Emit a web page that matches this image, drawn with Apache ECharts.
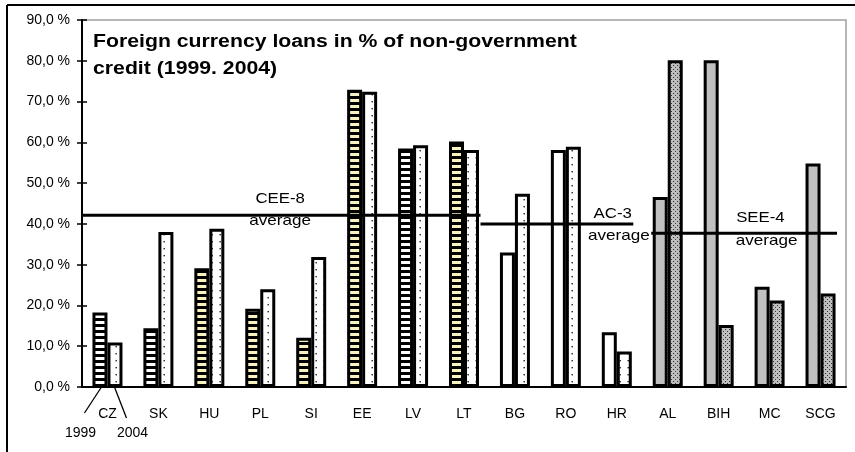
<!DOCTYPE html>
<html>
<head>
<meta charset="utf-8">
<script src="https://cdn.jsdelivr.net/npm/echarts@6/dist/echarts.min.js"></script>
<style>
  html, body { margin: 0; padding: 0; background: #ffffff; }
  #chart { width: 855px; height: 452px; }
</style>
</head>
<body>
<div id="chart"></div>
<script>
// Foreign currency loans as a share of non-government credit, 1999 vs 2004
const categories = ['CZ', 'SK', 'HU', 'PL', 'SI', 'EE', 'LV', 'LT', 'BG', 'RO', 'HR', 'AL', 'BIH', 'MC', 'SCG'];
const loans1999 = [18.3, 14.4, 29.1, 19.2, 12.1, 72.9, 58.5, 60.2, 33.0, 58.1, 13.4, 46.6, 80.1, 24.6, 54.8];
const loans2004 = [10.9, 38.0, 38.8, 24.0, 31.9, 72.4, 59.3, 58.1, 47.4, 58.9, 8.7, 80.1, 15.2, 21.2, 22.9];
const regionOf = ['CEE-8', 'CEE-8', 'CEE-8', 'CEE-8', 'CEE-8', 'CEE-8', 'CEE-8', 'CEE-8',
                  'AC-3', 'AC-3', 'AC-3', 'SEE-4', 'SEE-4', 'SEE-4', 'SEE-4'];
const regionNames = ['CEE-8', 'AC-3', 'SEE-4'];
const regionAverages = [42.1, 40.0, 37.7];
const yearNames = ['1999', '2004'];
const yMin = 0, yMax = 90, yStep = 10;
const titleLines = ['Foreign currency loans in % of non-government', 'credit (1999. 2004)'];

// ---- layout & style ----
const FONT = 'Liberation Sans, Arial, sans-serif';
const GRID = { left: 82, right: 9, top: 20, bottom: 65 };
const BAR_W = 15, BAR_BORDER = 3;
const stripeShade = { CZ: '#ffffff', SK: '#ffffff', LV: '#ffffff' };
// where each average line starts: at the axis, where the previous one ends, or at its first bar
const avgStart = { 'CEE-8': 'axis', 'AC-3': 'previous', 'SEE-4': 'bars' };
// label anchors (category units) and vertical offsets (px) around each line
const avgLabelAnchor = {
  'CEE-8': { name: [3.89, -16], avg: [3.89, 6] },
  'AC-3':  { name: [10.42, -10], avg: [10.54, 12] },
  'SEE-4': { name: [13.32, -15], avg: [13.44, 8] }
};

function pattern(w, h, draw) {
  const c = document.createElement('canvas');
  c.width = w; c.height = h;
  draw(c.getContext('2d'));
  return { image: c, repeat: 'repeat' };
}
function stripes(bg) {
  return pattern(6, 6, ctx => {
    ctx.fillStyle = '#000'; ctx.fillRect(0, 0, 6, 6);
    ctx.fillStyle = bg; ctx.fillRect(0, 3, 6, 3);
  });
}
const sparseDots = pattern(8, 7, ctx => {
  ctx.fillStyle = '#fff'; ctx.fillRect(0, 0, 8, 7);
  ctx.fillStyle = '#222'; ctx.fillRect(3.5, 3, 1.4, 1.4);
});
const denseDots = pattern(4, 4, ctx => {
  ctx.fillStyle = '#c0c0c0'; ctx.fillRect(0, 0, 4, 4);
  ctx.fillStyle = '#333'; ctx.fillRect(1, 1, 1.1, 1.1); ctx.fillRect(3, 3, 1.1, 1.1);
});

function fill1999(i) {
  const r = regionOf[i];
  if (r === 'CEE-8') return stripes(stripeShade[categories[i]] || '#f7f2bf');
  if (r === 'AC-3') return '#ffffff';
  return '#c0c0c0';
}
function fill2004(i) {
  return regionOf[i] === 'SEE-4' ? denseDots : sparseDots;
}

const barItem = (v, color) => ({ value: v, itemStyle: { color } });

const plotW = 855 - GRID.left - GRID.right;
const catW = plotW / categories.length;
const pairHalf = (2 * BAR_W + BAR_BORDER) / 2 / catW;

// average line extents in category units
const avgSeries = [];
let prevEnd = 0;
regionNames.forEach((name, k) => {
  const idx = regionOf.map((r, i) => r === name ? i : -1).filter(i => i >= 0);
  const first = idx[0], last = idx[idx.length - 1];
  const end = last + 0.5 + pairHalf;
  let start = first + 0.5 - pairHalf;
  if (avgStart[name] === 'axis') start = 0;
  if (avgStart[name] === 'previous') start = prevEnd;
  prevEnd = end;
  avgSeries.push({
    type: 'line', name: name + ' average', xAxisIndex: 2, yAxisIndex: 0,
    data: [[start, regionAverages[k]], [end, regionAverages[k]]],
    symbol: 'none', silent: true, z: 5,
    lineStyle: { color: '#000', width: 3 }
  });
});

const chart = echarts.init(document.getElementById('chart'), null, { renderer: 'canvas' });
const axisText = { fontFamily: FONT, fontSize: 14, color: '#000' };

chart.setOption({
  animation: false,
  backgroundColor: '#ffffff',
  grid: Object.assign({ show: true, borderColor: '#a0a0a0', borderWidth: 1.5, backgroundColor: 'transparent' }, GRID),
  xAxis: [
    {
      type: 'category', data: categories, position: 'bottom',
      axisLine: { lineStyle: { color: '#000', width: 2 } },
      axisTick: { length: 6, lineStyle: { color: '#000', width: 1.5 } },
      axisLabel: Object.assign({ margin: 20 }, axisText)
    },
    {
      type: 'category', data: categories, position: 'bottom',
      axisLine: { show: false },
      axisTick: { inside: true, length: 4, lineStyle: { color: '#000', width: 1.5 } },
      axisLabel: { show: false }
    },
    { type: 'value', min: 0, max: categories.length, show: false, position: 'top' }
  ],
  yAxis: [
    {
      type: 'value', min: yMin, max: yMax, interval: yStep, position: 'left',
      axisLine: { show: true, lineStyle: { color: '#000', width: 2 } },
      axisTick: { show: true, length: 5, lineStyle: { color: '#000', width: 1.5 } },
      splitLine: { show: false },
      axisLabel: Object.assign({ margin: 12, formatter: v => v.toFixed(1).replace('.', ',') + ' %' }, axisText)
    },
    {
      type: 'value', min: yMin, max: yMax, interval: yStep, position: 'left',
      axisLine: { show: false },
      axisTick: { show: true, inside: true, length: 5, lineStyle: { color: '#000', width: 1.5 } },
      splitLine: { show: false },
      axisLabel: { show: false }
    }
  ],
  series: [
    {
      type: 'bar', name: yearNames[0], barWidth: BAR_W, barGap: '0%',
      itemStyle: { borderColor: '#000', borderWidth: BAR_BORDER },
      data: loans1999.map((v, i) => barItem(v, fill1999(i))), z: 2
    },
    {
      type: 'bar', name: yearNames[1], barWidth: BAR_W, barGap: '0%',
      itemStyle: { borderColor: '#000', borderWidth: BAR_BORDER },
      data: loans2004.map((v, i) => barItem(v, fill2004(i))), z: 2
    }
  ].concat(avgSeries)
});

// ---- annotations placed through the axes ----
const px = x => chart.convertToPixel({ xAxisIndex: 2 }, x);
const py = y => chart.convertToPixel({ yAxisIndex: 0 }, y);
const baseY = py(0);

const graphics = [
  // page frame
  { type: 'line', shape: { x1: 7, y1: 5, x2: 855, y2: 5 }, style: { stroke: '#000', lineWidth: 2 }, silent: true },
  { type: 'line', shape: { x1: 7, y1: 5, x2: 7, y2: 452 }, style: { stroke: '#000', lineWidth: 2 }, silent: true },
  // title
  {
    type: 'text', x: 93, y: 29, scaleX: 1.18, silent: true,
    style: { text: titleLines.join('\n'), fontFamily: FONT, fontSize: 18, fontWeight: 'bold',
             lineHeight: 27, fill: '#000', align: 'left', verticalAlign: 'top' }
  }
];

regionNames.forEach((name, k) => {
  const a = avgLabelAnchor[name];
  const lineY = py(regionAverages[k]);
  graphics.push({
    type: 'text', x: px(a.name[0]), y: lineY + a.name[1], scaleX: 1.12, silent: true,
    style: { text: name, fontFamily: FONT, fontSize: 15, fill: '#000', align: 'center', verticalAlign: 'middle' }
  });
  graphics.push({
    type: 'text', x: px(a.avg[0]), y: lineY + a.avg[1], scaleX: 1.14, silent: true,
    style: { text: 'average', fontFamily: FONT, fontSize: 15, fill: '#000', align: 'center', verticalAlign: 'middle' }
  });
});

// year key under the first country, with leader lines to its two bars
const junction = chart.convertToPixel({ xAxisIndex: 0 }, categories[0]);
graphics.push(
  { type: 'line', silent: true, shape: { x1: junction - 6, y1: baseY, x2: junction - 23, y2: baseY + 26 }, style: { stroke: '#000', lineWidth: 1.3 } },
  { type: 'line', silent: true, shape: { x1: junction + 7, y1: baseY, x2: junction + 19, y2: baseY + 31 }, style: { stroke: '#000', lineWidth: 1.3 } },
  { type: 'text', silent: true, x: junction - 27, y: baseY + 46,
    style: { text: yearNames[0], fontFamily: FONT, fontSize: 14, fill: '#000', align: 'center', verticalAlign: 'middle' } },
  { type: 'text', silent: true, x: junction + 25, y: baseY + 46,
    style: { text: yearNames[1], fontFamily: FONT, fontSize: 14, fill: '#000', align: 'center', verticalAlign: 'middle' } }
);

chart.setOption({ graphic: graphics });
</script>
</body>
</html>
